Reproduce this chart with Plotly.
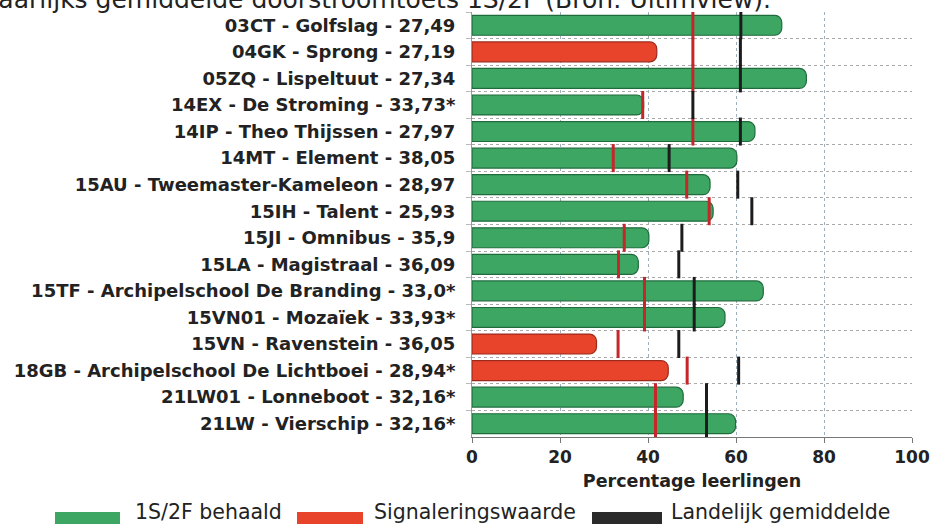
import plotly.graph_objects as go

scholen = [
    "03CT - Golfslag - 27,49",
    "04GK - Sprong - 27,19",
    "05ZQ - Lispeltuut - 27,34",
    "14EX - De Stroming - 33,73*",
    "14IP - Theo Thijssen - 27,97",
    "14MT - Element - 38,05",
    "15AU - Tweemaster-Kameleon - 28,97",
    "15IH - Talent - 25,93",
    "15JI - Omnibus - 35,9",
    "15LA - Magistraal - 36,09",
    "15TF - Archipelschool De Branding - 33,0*",
    "15VN01 - Mozaïek - 33,93*",
    "15VN - Ravenstein - 36,05",
    "18GB - Archipelschool De Lichtboei - 28,94*",
    "21LW01 - Lonneboot - 32,16*",
    "21LW - Vierschip - 32,16*",
]
behaald = [70.4, 42.0, 76.0, 39.0, 64.3, 60.2, 54.1, 54.8, 40.2, 37.8, 66.2, 57.5, 28.3, 44.6, 48.0, 59.9]
signalering = [50.2, 50.2, 50.2, 38.8, 50.2, 32.1, 48.8, 53.9, 34.6, 33.3, 39.2, 39.2, 33.2, 48.9, 41.7, 41.7]
landelijk = [61.1, 61.0, 61.0, 50.2, 61.0, 44.8, 60.4, 63.6, 47.7, 47.0, 50.5, 50.5, 47.0, 60.6, 53.3, 53.3]
x_ticks = [0, 20, 40, 60, 80, 100]

GREEN = "#3ea663"
GREEN_EDGE = "#1f6b3c"
RED = "#e8442c"
RED_EDGE = "#9c2a1c"
RED_MARK = "#c4262a"
BLACK = "#1c1c1c"

bar_colors = [GREEN if b >= s else RED for b, s in zip(behaald, signalering)]
edge_colors = [GREEN_EDGE if b >= s else RED_EDGE for b, s in zip(behaald, signalering)]

fig = go.Figure()
fig.add_trace(go.Bar(
    y=scholen, x=behaald, orientation="h",
    marker=dict(color=bar_colors, line=dict(color=edge_colors, width=1.2)),
    showlegend=False, hoverinfo="x+y",
))
fig.add_trace(go.Scatter(
    y=scholen, x=signalering, mode="markers",
    marker=dict(symbol="line-ns", size=20, line=dict(color=RED_MARK, width=3)),
    showlegend=False,
))
fig.add_trace(go.Scatter(
    y=scholen, x=landelijk, mode="markers",
    marker=dict(symbol="line-ns", size=20, line=dict(color=BLACK, width=3)),
    showlegend=False,
))

FONT = "DejaVu Sans"
L, R, T, B = 472, 21, 12, 87
W, H = 933, 524
PW, PH = W - L - R, H - T - B


def px(x):
    return (x - L) / PW


def py(y):
    return (H - B - y) / PH


fig.update_layout(
    width=W, height=H,
    margin=dict(l=L, r=R, t=T, b=B, autoexpand=False),
    paper_bgcolor="white", plot_bgcolor="white",
    bargap=0.25, barcornerradius=7,
    font=dict(family=FONT, color="#222"),
    xaxis=dict(
        range=[0, 100], tickvals=x_ticks, ticktext=[str(v) for v in x_ticks],
        showgrid=True, gridcolor="#9fb0bd", griddash="dot", gridwidth=1,
        zeroline=False, showline=True, linecolor="#777", linewidth=1,
        ticks="outside", ticklen=5, tickcolor="#777", automargin=False,
        tickfont=dict(size=17, family=FONT, weight=700, color="#222"),
        title=dict(text="Percentage leerlingen",
                   font=dict(size=17.5, family=FONT, weight=700, color="#222"), standoff=8),
    ),
    yaxis=dict(
        type="category", range=[len(scholen) - 0.5, -0.5], tickson="boundaries",
        showgrid=True, gridcolor="#aaaaaa", griddash="dot", gridwidth=1,
        showline=True, linecolor="#999", linewidth=1, automargin=False,
        ticks="outside", ticklen=5, tickcolor="#bbb",
        ticklabelstandoff=12,
        tickfont=dict(size=18, family=FONT, weight=700, color="#222"),
    ),
)

# title, clipped at the very top of the page as in the reference
fig.add_annotation(
    text="Jaarlijks gemiddelde doorstroomtoets 1S/2F (Bron: Ultimview).",
    xref="paper", yref="paper", x=px(-13), y=py(16),
    xanchor="left", yanchor="bottom", showarrow=False,
    font=dict(size=25, family=FONT, color="#222"),
)

# custom legend at the bottom
legend_items = [("1S/2F behaald", GREEN, 55, 120, 133),
                ("Signaleringswaarde", RED, 297, 363, 372),
                ("Landelijk gemiddelde", "#2a2a2a", 592, 662, 669)]
for label, col, x0, x1, xt in legend_items:
    fig.add_shape(type="rect", xref="paper", yref="paper",
                  x0=px(x0), x1=px(x1), y0=py(526), y1=py(512),
                  fillcolor=col, line=dict(width=0))
    fig.add_annotation(text=label, xref="paper", yref="paper",
                       x=px(xt), y=py(512),
                       xanchor="left", yanchor="middle", showarrow=False,
                       font=dict(size=20.5, family=FONT, color="#222"))

fig.write_html("out.html", config={"displayModeBar": False},
               post_script="document.body.style.margin='0px';")
